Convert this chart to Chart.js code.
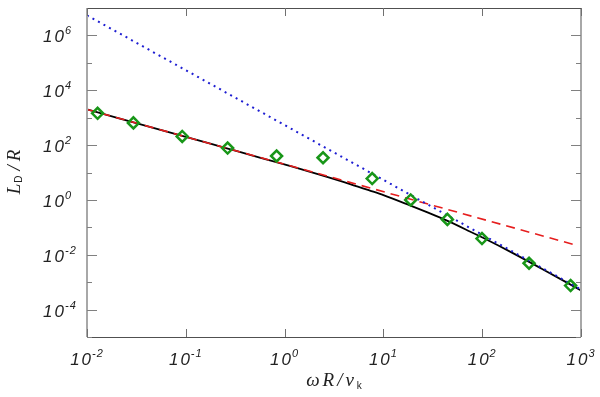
<!DOCTYPE html>
<html><head><meta charset="utf-8">
<script src="https://cdn.jsdelivr.net/npm/chart.js@4/dist/chart.umd.min.js"></script>
<style>html,body{margin:0;padding:0;background:#fff}#c{display:block}</style>
</head><body>
<canvas id="c" width="600" height="397"></canvas>
<script>
// tick exponents
const xTickExps = [-2, -1, 0, 1, 2, 3];
const yTickExps = [-4, -2, 0, 2, 4, 6];
const yMinorExps = [-5, -3, -1, 1, 3, 5];

// full model (black solid)
const modelX = [0.01, 0.1, 0.26, 0.56, 1.2, 2.3, 4.6, 7.3, 10, 18.6, 30, 44, 75, 103, 200, 400, 1000];
const modelY = [2000, 200, 76, 35, 16.4, 8.2, 3.8, 2.2, 1.5, 0.63, 0.316, 0.175, 0.0708, 0.0407, 0.012, 0.0031, 0.0005];

// low-frequency approximation (red dashed)
const lowX = [0.01, 1, 900];
const lowY = [2000, 20, 0.0222];

// high-frequency approximation (blue dotted)
const highX = [0.01, 1, 1000];
const highY = [5.4e6, 537, 5.4e-4];

// simulation points (green diamonds)
const simX = [0.0128, 0.0295, 0.092, 0.265, 0.83, 2.45, 7.7, 18.9, 44.4, 99.5, 298, 785];
const simY = [1445, 645, 206, 78, 40, 34.5, 6.0, 1.0, 0.195, 0.039, 0.0049, 0.00075];

const pts = (xs, ys) => xs.map((v, i) => ({x: v, y: ys[i]}));

function drawPow(ctx, e, x, baseY, expY, align, bigPx, smallPx) {
  const big = 'italic ' + bigPx + 'px "Liberation Sans", Arial, sans-serif';
  const small = 'italic ' + smallPx + 'px "Liberation Sans", Arial, sans-serif';
  ctx.font = big; ctx.letterSpacing = '2px';
  const w10 = ctx.measureText('10').width - 2;
  ctx.font = small; ctx.letterSpacing = '1px';
  const es = String(e);
  const we = ctx.measureText(es).width;
  let x0;
  if (align === 'center') x0 = x - (w10 + 1 + we) / 2;
  else x0 = x - w10;
  ctx.textAlign = 'left';
  ctx.textBaseline = 'alphabetic';
  ctx.font = big; ctx.letterSpacing = '2px';
  ctx.fillText('10', x0, baseY);
  ctx.font = small; ctx.letterSpacing = '1px';
  ctx.fillText(es, x0 + w10 + 1, expY);
  ctx.letterSpacing = '0px';
}

const framePlugin = {
  id: 'frame',
  afterDraw(chart) {
    const {ctx, chartArea: a, scales: {x, y}} = chart;
    ctx.save();
    const line = (x1, y1, x2, y2) => { ctx.beginPath(); ctx.moveTo(x1, y1); ctx.lineTo(x2, y2); ctx.stroke(); };
    ctx.lineWidth = 2; ctx.strokeStyle = '#a8a8a8';
    line(a.left, a.top, a.left, a.bottom);
    line(a.right, a.top, a.right, a.bottom);
    ctx.lineWidth = 1; ctx.strokeStyle = '#505050';
    line(a.left, Math.round(a.top) + 0.5, a.right, Math.round(a.top) + 0.5);
    line(a.left, Math.round(a.bottom) + 0.5, a.right, Math.round(a.bottom) + 0.5);
    ctx.strokeStyle = '#707070';
    xTickExps.forEach(e => {
      const px = Math.round(x.getPixelForValue(Math.pow(10, e))) + 0.5;
      line(px, a.bottom, px, a.bottom - 8);
      line(px, a.top, px, a.top + 8);
    });
    ctx.strokeStyle = '#808080';
    yTickExps.forEach(e => {
      const py = Math.round(y.getPixelForValue(Math.pow(10, e))) + 0.5;
      line(a.left, py, a.left + 10, py);
      line(a.right, py, a.right - 10, py);
    });
    yMinorExps.forEach(e => {
      const py = Math.round(y.getPixelForValue(Math.pow(10, e))) + 0.5;
      line(a.left, py, a.left + 5, py);
      line(a.right, py, a.right - 5, py);
    });
    ctx.fillStyle = '#222';
    xTickExps.forEach(e => {
      const px = x.getPixelForValue(Math.pow(10, e));
      drawPow(ctx, e, px, 365, 357, 'center', 17, 11);
    });
    yTickExps.forEach(e => {
      const py = y.getPixelForValue(Math.pow(10, e));
      drawPow(ctx, e, 64, py + 7, py - 1, 'right', 17, 11);
    });
    // x title
    const serif = 'italic 19px "Liberation Serif", "DejaVu Serif", serif';
    const sub = '10px "Liberation Sans", Arial, sans-serif';
    ctx.textAlign = 'left';
    ctx.font = serif; ctx.letterSpacing = '3px';
    const wMain = ctx.measureText('ωR/v').width;
    ctx.letterSpacing = '0px';
    ctx.font = sub;
    const wSub = ctx.measureText('k').width;
    const cx = (a.left + a.right) / 2;
    let sx = cx - (wMain + wSub) / 2;
    ctx.font = serif; ctx.letterSpacing = '3px'; ctx.fillText('ωR/v', sx, 386);
    ctx.letterSpacing = '0px';
    ctx.font = sub; ctx.fillText('k', sx + wMain, 389);
    // y title
    ctx.save();
    ctx.translate(20, 170);
    ctx.rotate(-Math.PI / 2);
    ctx.font = serif; const wL = ctx.measureText('L').width;
    ctx.font = sub; const wD = ctx.measureText('D').width;
    ctx.font = serif; ctx.letterSpacing = '4px'; const wR = ctx.measureText('/R').width;
    ctx.letterSpacing = '0px';
    const gap = 5;
    let tx = -(wL + 1 + wD + gap + wR) / 2;
    ctx.font = serif; ctx.fillText('L', tx, 0);
    ctx.font = sub; ctx.fillText('D', tx + wL + 1, 2);
    ctx.font = serif; ctx.letterSpacing = '4px'; ctx.fillText('/R', tx + wL + 1 + wD + gap, 0);
    ctx.letterSpacing = '0px';
    ctx.restore();
    ctx.restore();
  }
};

new Chart(document.getElementById('c'), {
  type: 'scatter',
  data: {
    datasets: [
      {label: 'sim', data: pts(simX, simY), showLine: false, pointStyle: 'rectRot',
       pointRadius: 5.5, pointHoverRadius: 5.5, borderWidth: 2.5, borderColor: 'rgb(24,150,24)',
       backgroundColor: 'rgba(0,0,0,0)', order: 0},
      {label: 'high', data: pts(highX, highY), showLine: true, pointRadius: 0, borderWidth: 2,
       borderColor: 'rgb(30,30,210)', borderDash: [2, 4.3], order: 1},
      {label: 'low', data: pts(lowX, lowY), showLine: true, pointRadius: 0, borderWidth: 1.6,
       borderColor: 'rgb(230,30,30)', borderDash: [9, 6], order: 2},
      {label: 'model', data: pts(modelX, modelY), showLine: true, pointRadius: 0, borderWidth: 1.8,
       borderColor: '#000', cubicInterpolationMode: 'monotone', order: 3}
    ]
  },
  options: {
    responsive: false,
    animation: false,
    devicePixelRatio: 1,
    layout: {padding: {top: 4, right: 19, left: 0, bottom: 0}},
    plugins: {legend: {display: false}, tooltip: {enabled: false}},
    scales: {
      x: {type: 'logarithmic', min: 0.01, max: 1000,
          grid: {display: false}, border: {display: false}, ticks: {display: false},
          afterFit: s => { s.height = 60; }},
      y: {type: 'logarithmic', min: 1e-5, max: 1e7,
          grid: {display: false}, border: {display: false}, ticks: {display: false},
          afterFit: s => { s.width = 87; }}
    }
  },
  plugins: [framePlugin]
});
</script>
</body></html>
